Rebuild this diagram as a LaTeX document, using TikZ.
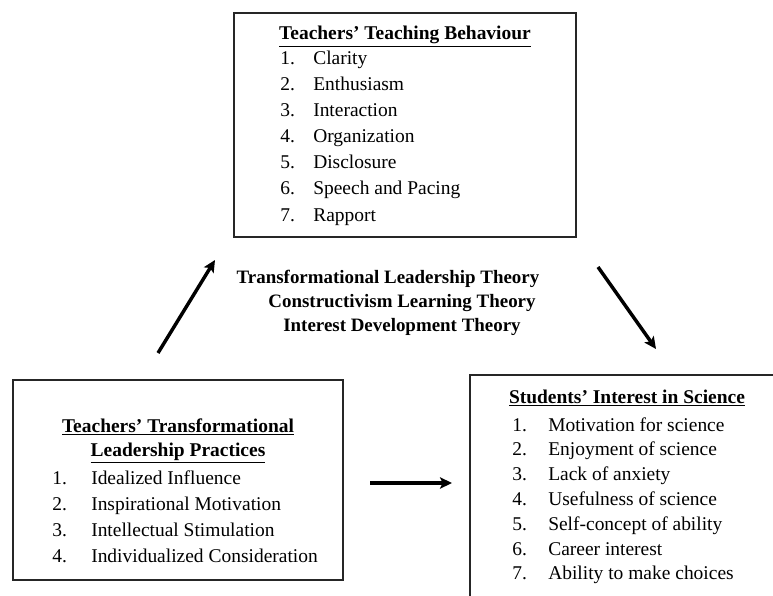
\documentclass[tikz,border=0pt]{standalone}
\usepackage{fontspec}
\setmainfont{Liberation Serif}
\usetikzlibrary{arrows.meta}
\newcommand{\figfont}{\fontsize{14.6}{17}\selectfont}
\begin{document}
\begin{tikzpicture}[x=0.75pt,y=-0.75pt,font=\figfont,
    box/.style={draw=black!85,line width=0.8pt},
    title/.style={anchor=base,inner sep=0pt,font=\figfont\bfseries},
    theory/.style={anchor=base,inner sep=0pt,font=\fontsize{14.2}{17}\selectfont\bfseries},
    item/.style={anchor=base west,inner sep=0pt},
    bigarrow/.style={line width=2.6pt,-{Stealth[length=9pt,width=8.5pt,inset=2pt]}}]
\useasboundingbox (0,0) rectangle (773,595);
\draw[box] (234,13) rectangle (576,237); % teaching behaviour
\draw[box] (13,380) rectangle (343,580); % leadership practices
\draw[box] (470,375) rectangle (800,640); % interest in science
% top box
\node[title] (tb) at (405,40) {\underline{Teachers’ Teaching Behaviour}};
\foreach \t [count=\i] in {Clarity,Enthusiasm,Interaction,Organization,Disclosure,Speech and Pacing,Rapport}{
    \node[item] (tb-n\i) at (280,{65+26*(\i-1)}) {\i.};
    \node[item] (tb-\i) at (313,{65+26*(\i-1)}) {\t};
}
% left box
\node[title] (tl1) at (178,432) {\underline{Teachers’ Transformational}};
\node[title] (tl2) at (178,456) {\underline{Leadership Practices}};
\foreach \t [count=\i] in {Idealized Influence,Inspirational Motivation,Intellectual Stimulation,Individualized Consideration}{
    \node[item] (tl-n\i) at (52,{484+26.3*(\i-1)}) {\i.};
    \node[item] (tl-\i) at (91,{484+26.3*(\i-1)}) {\t};
}
% right box
\node[title] (si) at (627,403) {\underline{Students’ Interest in Science}};
\foreach \t [count=\i] in {Motivation for science,Enjoyment of science,Lack of anxiety,Usefulness of science,Self-concept of ability,Career interest,Ability to make choices}{
    \node[item] (si-n\i) at (512,{431+24.8*(\i-1)}) {\i.};
    \node[item] (si-\i) at (548,{431+24.8*(\i-1)}) {\t};
}
% theories
\node[theory] (th1) at (388,283) {Transformational Leadership Theory};
\node[theory] (th2) at (402,307) {Constructivism Learning Theory};
\node[theory] (th3) at (402,331) {Interest Development Theory};
% arrows
\coordinate (a1) at (158,353);
\coordinate (a2) at (215,260);
\coordinate (b1) at (598,267);
\coordinate (b2) at (656,349);
\coordinate (c1) at (370,483);
\coordinate (c2) at (452,483);
\draw[bigarrow] (a1) -- (a2);
\draw[bigarrow] (b1) -- (b2);
\draw[bigarrow] (c1) -- (c2);
\end{tikzpicture}
\end{document}
